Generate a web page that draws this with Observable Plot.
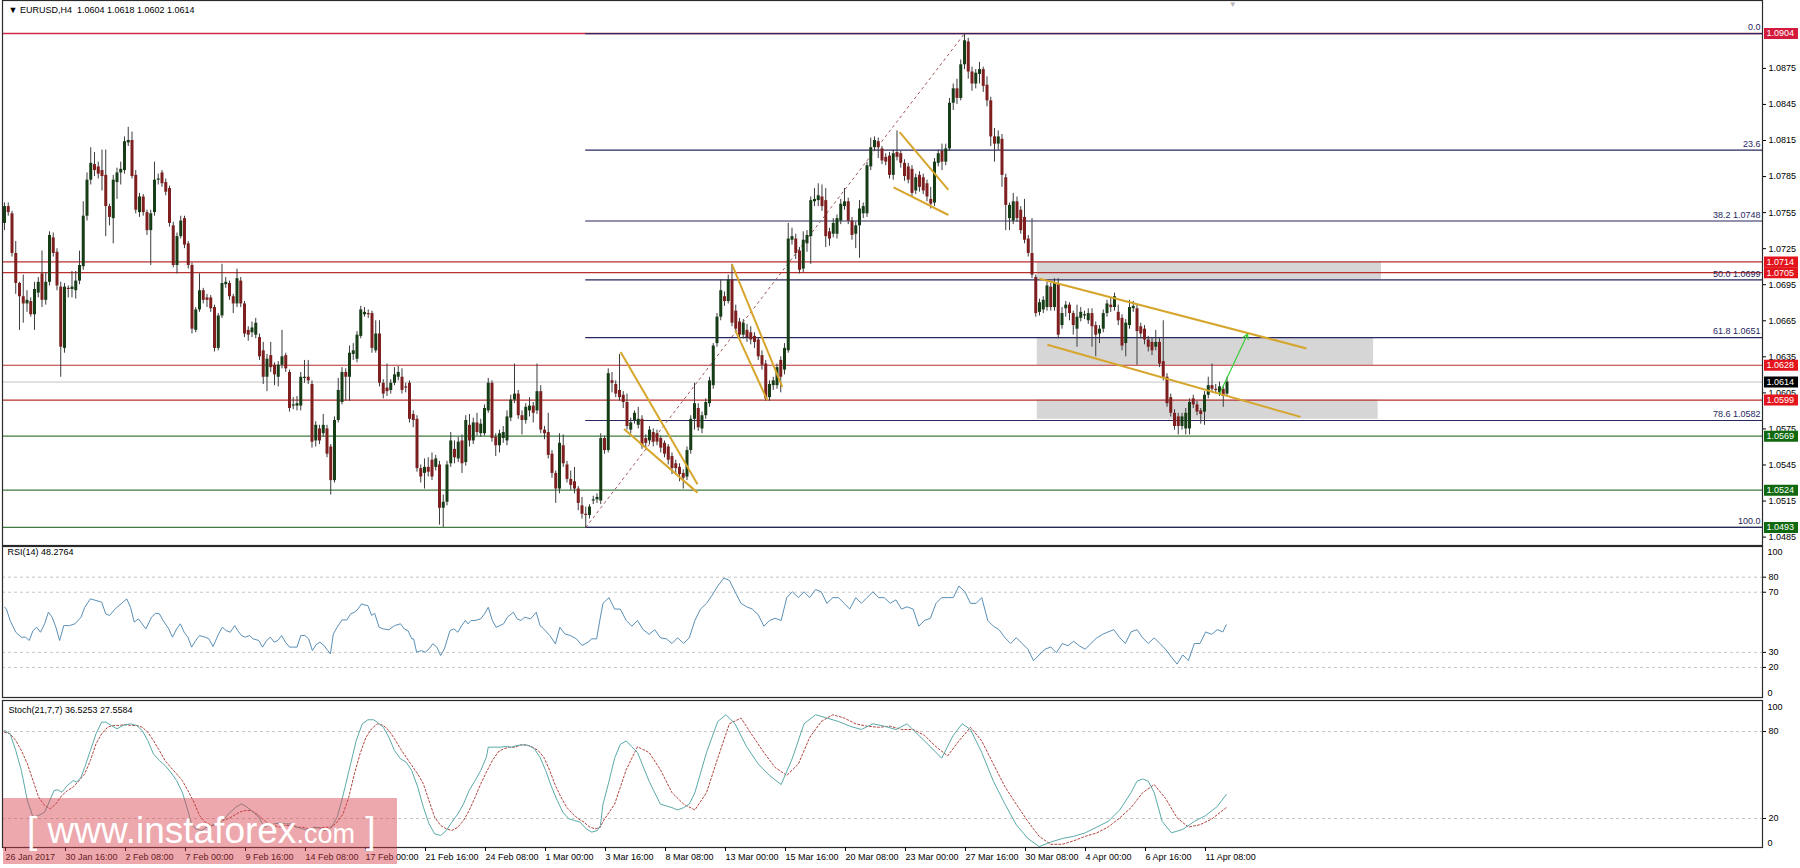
<!DOCTYPE html>
<html><head><meta charset="utf-8">
<script src="https://cdn.jsdelivr.net/npm/d3@7"></script>
<script src="https://cdn.jsdelivr.net/npm/@observablehq/plot@0.6"></script>
<style>
body{margin:0;background:#fff;}
#wrap{position:relative;width:1800px;height:868px;overflow:hidden;font-family:"Liberation Sans",Arial,sans-serif;}
.p{position:absolute;left:0;}
#wm{position:absolute;left:3px;top:798px;width:394px;height:66px;background:rgba(214,62,74,0.45);}
#wm div{position:absolute;left:24px;top:1px;color:#fff;font-size:37px;line-height:64px;white-space:nowrap;font-family:"Liberation Sans",Arial,sans-serif;}
</style></head>
<body><div id="wrap">
<div class="p" id="p1" style="top:0"></div>
<div class="p" id="p2" style="top:546px"></div>
<div class="p" id="p3" style="top:700px"></div>
<div id="wm"><div>[ www.instaforex<span style="font-size:27px">.com</span> ]</div></div>
</div>
<script>
// ---- price data, in pips above 1.0000 (bar 0 = 26 Jan 2017 00:00, H4) ----
const open = [
746,760,754,721,696,685,679,681,670,688, 704,682,697,734,722,693,642,692,691,690,
698,710,752,782,795,793,790,786,760,750, 780,788,790,813,815,786,755,768,755,740,
755,782,788,780,775,744,711,735,750,729, 711,657,674,690,684,684,676,642,669,695,
696,685,679,698,679,657,655,653,651,640, 618,636,628,618,628,636,622,594,594,594,
617,618,612,565,575,571,575,560,532,582, 597,622,618,637,633,652,670,671,671,640,
654,613,609,607,613,618,618,610,613,587, 583,542,538,543,549,543,545,509,514,546,
558,550,565,547,578,565,580,571,571,590, 613,568,561,567,565,584,599,604,586,582,
590,594,590,606,574,572,554,538,525,561, 545,533,531,525,511,504,503,515,516,515,
567,557,615,612,607,603,597,574,582,578, 583,567,565,572,571,567,563,560,552,546,
543,538,535,557,583,592,575,586,596,611, 646,668,685,681,699,673,664,653,657,655,
652,649,636,629,601,611,611,632,624,640, 732,733,723,708,729,735,764,765,768,765,
739,737,737,748,760,764,748,737,744,754, 754,793,809,814,808,801,802,786,805,804,
796,793,791,773,786,784,779,766,763,796, 806,797,808,846,858,850,878,897,872,862,
870,874,861,848,818,812,816,784,750,748, 764,757,751,733,721,701,672,674,676,693,
676,696,661,675,678,671,658,667,669,665, 671,661,654,658,671,678,676,672,667,646,
661,675,675,660,658,649,647,643,647,631, 618,601,588,585,577,575,575,600,595,590,
589,603,611,608,605,608,604];
const high = [
763,763,756,731,697,703,690,684,697,701, 723,705,739,738,725,697,696,694,706,706,
723,764,788,809,805,797,807,807,762,786, 792,797,818,826,822,790,771,770,757,757,
797,787,790,783,777,747,738,752,752,731, 713,676,704,692,687,686,678,671,712,701,
698,687,708,701,681,660,664,667,654,647, 637,647,630,631,657,638,624,601,602,622,
632,632,615,581,578,587,578,562,585,617, 626,625,644,646,656,677,676,674,673,665,
665,616,629,616,626,627,625,613,615,590, 586,545,550,551,555,553,548,520,548,572,
565,568,570,586,587,584,588,583,595,617, 615,571,574,577,590,603,629,607,590,596,
601,597,629,611,577,588,557,540,571,570, 548,540,543,527,518,510,512,519,521,571,
569,625,622,615,637,606,604,584,590,593, 586,570,577,575,574,569,565,562,555,549,
546,541,560,586,613,596,589,600,618,646, 671,699,689,703,712,678,667,666,662,660,
655,651,640,632,615,618,629,635,646,746, 742,737,726,739,740,768,775,779,778,775,
742,750,753,766,775,767,751,747,765,763, 797,817,818,817,810,804,805,807,823,806,
799,796,794,787,789,787,782,776,800,807, 812,812,850,862,866,882,904,900,876,874,
880,876,868,851,825,823,820,787,763,771, 768,760,766,736,750,703,683,685,697,696,
700,700,676,681,680,673,678,676,673,675, 675,664,661,674,682,684,688,678,670,666,
682,681,678,663,661,652,650,657,650,665, 621,604,591,588,588,592,600,603,598,592,
606,618,629,612,614,611,618];
const low = [
740,752,718,687,657,663,672,668,657,684, 676,678,694,718,690,618,638,684,684,683,
695,707,748,778,785,783,773,735,744,729, 766,778,787,810,783,754,751,752,736,711,
752,778,776,769,743,709,704,733,725,708, 654,655,672,679,676,672,639,640,667,692,
682,671,676,676,651,648,651,650,632,612, 606,622,611,610,625,622,589,591,590,590,
613,612,559,560,562,568,551,520,530,580, 595,598,598,632,630,650,668,667,638,638,
610,600,602,604,611,615,604,605,580,576, 539,530,525,535,532,540,495,493,511,543,
546,547,538,544,560,562,569,568,569,588, 564,552,555,563,561,581,596,583,570,579,
585,580,587,571,566,550,534,513,521,543, 530,524,521,507,500,493,500,512,513,512,
554,555,605,601,598,592,574,571,579,575, 558,559,562,560,561,555,551,545,537,538,
531,525,532,554,574,573,571,583,593,608, 643,665,677,679,660,655,650,650,647,645,
642,632,624,598,598,607,608,605,620,638, 728,716,704,705,722,712,760,760,756,726,
727,734,733,745,757,745,732,725,717,750, 751,790,806,800,795,794,783,782,798,792,
781,779,768,770,772,770,764,758,760,793, 790,794,806,840,845,848,874,866,856,858,
862,855,843,810,797,807,776,740,740,745, 747,737,729,718,700,668,669,671,673,673,
673,650,658,668,665,653,643,664,666,662, 643,635,646,655,668,672,673,661,640,635,
658,672,628,650,645,639,636,640,626,615, 593,585,574,570,574,570,570,592,586,579,
578,600,605,604,602,593,602];
const close = [
760,755,721,696,685,679,682,670,691,697, 682,697,736,721,694,643,693,691,693,698,
711,752,782,796,790,787,785,760,751,782, 788,791,814,815,785,757,768,755,740,754,
782,783,779,772,746,711,735,748,728,711, 658,674,690,682,682,675,642,669,696,697,
685,679,700,679,654,653,659,663,635,618, 633,626,620,628,635,625,592,595,596,618,
618,615,564,578,565,578,554,532,582,607, 622,618,638,640,653,674,672,670,642,654,
613,604,606,613,620,622,607,609,583,582, 542,535,543,539,535,550,509,514,545,565,
551,564,546,582,565,580,572,579,592,613, 567,561,571,572,585,599,604,586,582,593,
594,588,606,574,571,553,538,525,563,546, 533,528,525,513,504,503,510,516,518,567,
557,621,613,604,601,597,577,580,588,583, 561,563,574,564,564,559,554,549,542,542,
537,534,557,583,596,576,586,597,615,644, 668,690,681,699,663,658,653,663,651,649,
647,635,628,600,612,615,626,618,642,733, 735,721,707,732,736,765,766,769,760,735,
733,746,750,762,764,748,736,744,758,760, 794,809,815,809,798,797,786,804,801,796,
785,782,771,784,776,773,768,762,797,804, 797,808,846,858,850,878,898,872,862,871,
874,860,848,818,812,818,786,761,761,764, 750,740,732,721,703,671,680,682,694,676,
696,653,671,678,671,661,668,672,670,671, 660,653,658,671,679,676,685,665,644,663,
676,677,656,654,649,643,640,647,629,618, 596,588,577,577,585,588,597,595,589,587,
603,611,608,607,610,602,614];

// ---- indicator readings: [bar, value] ----
const rsiPoints = [
[0,60.0],[0.5,58.9],[1.5,51.2],[3.0,43.4],[4.5,40.1],[5.6,40.1],[6.6,37.9],[7.6,44.5],[8.6,46.7],[9.6,43.4],
[10.7,49.0],[11.7,56.7],[12.7,53.4],[13.7,46.7],[14.7,37.9],[15.8,47.8],[17.3,47.8],[18.8,49.0],[20.4,53.4],[21.4,60.0],
[22.9,65.6],[24.4,64.5],[25.9,63.4],[27.0,55.6],[28.0,54.5],[29.5,58.9],[31.1,62.3],[32.6,65.6],[33.6,60.0],[34.6,50.1],
[35.7,52.3],[36.7,49.0],[37.7,45.6],[39.2,53.4],[40.3,56.0],[41.3,55.6],[42.3,51.2],[43.8,45.6],[44.8,40.1],[45.9,45.6],
[46.9,49.0],[47.9,43.4],[48.9,40.1],[49.9,33.5],[51.0,37.9],[52.0,41.2],[53.5,40.1],[54.5,39.0],[55.6,33.9],[57.1,42.3],
[58.1,46.7],[59.1,44.5],[60.2,43.4],[61.4,47.8],[62.2,44.5],[63.2,41.2],[64.2,40.1],[65.3,41.2],[66.3,39.0],[67.8,37.9],
[68.8,33.5],[69.9,37.9],[70.9,40.1],[71.9,36.8],[72.9,37.9],[73.9,41.2],[74.9,36.8],[76.0,33.5],[77.0,33.5],[78.0,33.5],
[79.0,41.2],[80.1,41.2],[81.1,39.0],[82.1,31.2],[83.1,35.2],[84.1,36.8],[85.2,34.6],[86.2,31.2],[86.9,29.0],[87.7,42.3],
[88.7,46.7],[90.0,51.6],[91.3,51.6],[92.3,55.6],[93.3,56.7],[94.3,58.9],[95.2,62.3],[95.9,61.6],[96.9,61.1],[97.9,54.5],
[98.7,56.0],[99.9,46.7],[101.0,45.6],[102.5,45.0],[104.0,47.8],[105.6,49.0],[106.6,45.6],[107.6,44.5],[108.6,39.0],[109.1,39.0],
[109.9,30.1],[111.2,31.2],[112.2,30.1],[113.2,32.3],[114.2,35.7],[115.3,33.5],[116.3,27.9],[117.3,32.3],[118.8,44.5],[119.8,45.6],
[120.9,43.4],[121.9,47.8],[122.9,51.2],[123.6,49.0],[124.4,51.2],[125.5,51.2],[127.0,52.3],[128.0,55.6],[129.0,60.0],[130.1,51.2],
[131.1,46.7],[132.1,47.8],[133.1,49.0],[134.1,53.4],[135.7,56.7],[136.7,52.3],[137.7,51.2],[138.7,53.4],[140.3,52.3],[141.8,56.7],
[142.8,47.8],[143.8,45.6],[145.4,41.2],[146.9,35.7],[148.1,46.7],[149.4,42.3],[150.9,41.2],[152.5,39.0],[154.0,34.6],[155.6,36.8],
[156.6,39.0],[157.9,39.0],[158.9,53.4],[159.6,62.6],[161.2,66.4],[162.7,58.8],[164.2,58.8],[165.8,51.2],[167.3,47.4],[168.8,51.2],
[170.3,45.1],[171.9,42.0],[173.4,45.1],[174.9,39.7],[176.5,39.0],[178.0,35.9],[179.5,39.7],[181.1,35.9],[182.6,39.7],[184.1,51.2],
[185.6,58.8],[187.2,62.6],[188.7,68.0],[190.2,74.1],[191.8,79.4],[193.3,77.9],[194.8,70.3],[196.4,62.6],[197.9,60.3],[199.4,58.8],
[201.0,55.0],[202.5,47.4],[204.0,51.2],[205.5,52.7],[207.1,51.2],[208.6,66.4],[210.1,70.3],[211.7,66.4],[213.2,70.3],[214.7,66.4],
[216.3,71.8],[217.8,70.3],[219.3,62.6],[220.9,66.4],[222.4,66.4],[223.9,62.6],[225.4,58.8],[227.0,66.4],[228.5,62.6],[230.0,66.4],
[231.6,70.3],[233.1,66.4],[234.6,66.4],[236.2,62.6],[237.7,64.9],[239.2,58.8],[240.7,60.3],[242.3,58.8],[243.8,47.4],[245.3,51.2],
[246.9,52.7],[248.4,62.6],[249.9,66.4],[251.5,66.4],[253.0,66.4],[254.5,74.1],[256.1,70.3],[257.6,62.6],[259.1,62.6],[260.6,66.4],
[262.2,51.2],[263.7,47.4],[265.2,45.1],[266.8,39.7],[268.3,35.9],[269.8,39.7],[271.4,35.9],[272.9,32.1],[274.4,24.5],[275.9,28.3],
[277.5,32.1],[279.0,33.6],[280.5,29.8],[282.1,35.9],[283.6,34.4],[285.1,37.4],[286.6,34.4],[288.2,32.1],[289.7,35.9],[291.3,39.7],
[292.8,42.0],[294.3,43.6],[295.8,45.1],[297.4,39.7],[298.9,35.9],[300.4,43.6],[302.0,45.1],[303.5,39.7],[305.0,35.9],[306.6,39.7],
[308.1,35.9],[309.6,32.1],[311.2,26.8],[312.7,22.2],[314.2,28.3],[315.7,24.5],[317.3,35.9],[318.8,35.9],[320.3,43.6],[321.9,42.0],
[323.4,45.1],[324.9,43.6],[325.8,48.3]];
const stochMain = [
[0,80.7],[1.5,78.4],[3.0,66.9],[4.5,53.1],[6.1,32.4],[7.6,20.9],[9.1,22.1],[10.7,24.4],[11.7,30.1],[13.2,39.3],
[14.2,39.8],[15.3,38.2],[16.8,42.8],[18.3,46.2],[19.3,45.1],[20.4,48.5],[21.4,55.4],[22.9,66.9],[24.4,78.4],[25.9,86.5],
[27.0,86.5],[28.5,84.2],[30.0,81.9],[31.6,84.2],[33.6,85.3],[35.2,84.2],[36.7,80.7],[38.2,73.8],[39.7,64.6],[41.3,60.0],
[42.8,56.6],[44.3,52.0],[45.9,46.2],[47.4,38.2],[48.9,25.5],[49.9,16.3],[51.0,12.9],[52.5,11.7],[54.0,14.0],[55.6,15.2],
[57.1,16.3],[58.6,19.8],[60.2,24.4],[61.7,27.8],[63.2,30.1],[64.7,27.8],[66.3,24.4],[67.8,20.9],[69.3,14.0],[70.4,15.2],
[71.9,16.3],[73.4,16.8],[74.9,16.3],[76.5,16.3],[78.0,14.0],[79.5,12.9],[81.1,11.7],[82.6,14.0],[84.1,13.6],[85.2,11.7],
[86.7,12.9],[87.7,16.3],[88.7,20.9],[89.7,30.1],[90.8,41.6],[92.3,57.7],[93.8,73.8],[95.4,85.3],[96.9,88.1],[98.4,88.1],
[99.4,86.5],[101.0,83.0],[102.5,76.1],[104.0,66.9],[105.6,61.2],[107.1,58.9],[108.6,53.1],[110.2,41.6],[111.7,27.8],[113.2,16.3],
[114.7,9.4],[116.3,8.3],[117.8,11.7],[119.3,17.5],[120.9,23.2],[122.4,30.1],[123.9,39.3],[125.5,46.2],[127.0,53.1],[128.5,62.3],
[129.0,69.2],[130.6,69.2],[132.1,69.2],[133.6,69.7],[135.2,69.2],[136.7,70.4],[138.2,70.8],[139.7,70.4],[141.3,68.1],[142.8,62.3],
[144.3,53.1],[145.9,41.6],[147.4,32.4],[148.9,24.4],[150.5,19.8],[152.0,18.6],[153.5,17.5],[155.1,12.9],[156.6,10.6],[158.1,11.7],
[158.9,15.2],[159.6,29.9],[161.2,45.7],[162.7,61.6],[164.2,71.1],[165.8,73.5],[167.3,69.5],[168.8,65.5],[171.9,45.7],[174.9,29.9],
[178.0,27.5],[179.5,25.9],[181.1,27.5],[182.6,29.9],[184.1,37.8],[187.2,65.5],[190.2,86.9],[192.4,91.6],[194.8,85.3],[197.9,69.5],
[201.0,57.6],[204.0,49.7],[207.1,43.4],[210.1,61.6],[213.2,85.3],[216.3,91.6],[219.3,89.3],[222.4,86.9],[225.4,83.7],[228.5,81.4],
[231.6,85.3],[234.6,83.7],[237.7,81.4],[240.7,85.3],[243.8,77.4],[246.9,69.5],[249.9,61.6],[253.0,77.4],[255.4,85.3],[257.6,81.4],
[260.6,65.5],[263.7,45.7],[266.8,29.9],[269.8,15.7],[272.9,6.2],[275.9,0.6],[279.0,3.8],[282.1,6.2],[285.1,7.7],[288.2,10.1],
[291.3,14.1],[294.3,18.0],[297.4,25.9],[300.4,37.8],[302.0,45.7],[303.5,47.3],[305.0,45.7],[306.6,37.8],[308.7,18.0],[311.2,10.1],
[314.2,12.5],[317.3,18.0],[320.3,22.0],[323.4,28.3],[325.8,36.5]];
const stochSignal = [
[0,79.6],[1.5,78.4],[3.0,73.8],[4.5,66.9],[6.1,57.7],[7.6,46.2],[9.1,34.7],[10.7,29.0],[12.2,26.7],[13.7,30.1],
[15.3,35.9],[16.8,39.3],[18.3,41.6],[19.9,46.2],[21.4,50.8],[22.9,60.0],[24.4,71.5],[25.9,78.4],[27.5,83.0],[29.0,84.2],
[30.6,84.2],[32.1,84.8],[33.6,84.2],[35.2,84.2],[36.7,83.0],[38.2,79.6],[39.7,73.8],[41.3,66.9],[42.8,60.0],[44.3,55.4],
[45.9,50.8],[47.4,46.2],[48.9,39.3],[50.5,31.3],[52.0,22.1],[53.5,17.5],[55.1,15.2],[56.6,16.3],[58.1,18.6],[59.6,19.8],
[61.2,22.1],[62.7,24.4],[64.2,25.5],[65.8,25.5],[67.3,23.2],[68.8,19.8],[70.4,16.3],[71.9,15.2],[73.4,14.0],[74.9,15.2],
[76.5,15.2],[78.0,14.0],[79.5,14.0],[81.1,12.9],[82.6,13.6],[84.1,13.6],[85.7,14.0],[87.2,14.0],[88.7,17.5],[90.3,23.2],
[91.8,34.7],[93.3,50.8],[94.8,64.6],[96.4,76.1],[97.9,81.9],[99.4,85.3],[101.0,84.2],[102.5,80.7],[104.0,75.0],[105.6,68.1],
[107.1,62.3],[108.6,56.6],[110.2,50.8],[111.7,43.9],[113.2,32.4],[114.7,20.9],[116.3,15.2],[117.8,12.9],[119.3,11.7],[120.9,14.0],
[122.4,18.6],[123.9,25.5],[125.5,34.7],[127.0,43.9],[128.5,52.0],[130.1,60.0],[131.6,65.8],[133.1,68.1],[134.6,69.2],[136.2,69.2],
[137.7,70.8],[139.2,70.8],[140.8,69.2],[142.3,66.9],[143.8,62.3],[145.4,53.1],[146.9,42.8],[148.4,34.7],[149.9,27.8],[151.5,23.2],
[153.0,19.8],[154.5,17.5],[156.1,14.0],[157.6,12.9],[158.9,14.0],[159.6,18.0],[162.7,29.9],[165.8,53.7],[168.8,69.5],[171.9,65.5],
[174.9,53.7],[178.0,37.8],[181.1,29.9],[184.1,25.9],[187.2,37.8],[190.2,61.6],[193.3,85.3],[196.4,89.3],[199.4,77.4],[202.5,65.5],
[205.5,55.2],[208.6,49.7],[211.7,57.6],[214.7,75.8],[217.8,86.9],[220.9,91.6],[223.9,89.3],[227.0,85.3],[230.0,83.7],[233.1,82.9],
[236.2,83.7],[239.2,81.4],[242.3,81.4],[245.3,77.4],[248.4,69.5],[251.5,63.2],[254.5,73.5],[257.6,82.9],[260.6,73.5],[263.7,57.6],
[266.8,41.8],[269.8,29.9],[272.9,18.0],[275.9,7.7],[279.0,2.2],[282.1,2.2],[285.1,4.6],[288.2,7.7],[291.3,10.1],[294.3,14.1],
[297.4,20.4],[300.4,27.5],[303.5,37.8],[306.6,43.4],[309.6,33.9],[312.7,20.4],[315.7,14.1],[318.8,15.7],[321.9,19.6],[325.8,27.5]];

// ---- levels, drawings, labels ----
const priceTicks = [1.0485,1.0515,1.0545,1.0575,1.0605,1.0635,1.0665,1.0695,1.0725,1.0755,1.0785,1.0815,1.0845,1.0875];
const redLevels = [1.0714, 1.0705, 1.0628, 1.0599];
const greenLevels = [1.0569, 1.0524, 1.0493];
const topLevel = [1.0904];
const bidLevel = [1.0614];
const fibPrice = [1.0904, 1.0807, 1.0748, 1.0699, 1.0651, 1.0582, 1.0493];
const fibText = ["0.0", "23.6", "38.2 1.0748", "50.0 1.0699", "61.8 1.0651", "78.6 1.0582", "100.0"];
const fibFromBar = 155, fibToBar = 256;
const boxLow = [1.0699, 1.0628, 1.0583];
const boxHigh = [1.0714, 1.0651, 1.0599];
const boxFrom = [275.4, 275.4, 275.4];
const boxTo = [367.2, 365.1, 366.3];
const trendX1 = [164.3, 165.2, 194.0, 194.9, 238.7, 237.1, 276.0, 278.1];
const trendY1 = [1.0639, 1.0575, 1.0712, 1.0657, 1.0822, 1.0776, 1.0700, 1.0645];
const trendX2 = [184.8, 184.8, 207.4, 203.4, 251.7, 251.7, 347.2, 345.6];
const trendY2 = [1.0529, 1.0522, 1.0610, 1.0599, 1.0774, 1.0753, 1.0642, 1.0585];
const arrowFrom = [324, 1.0604], arrowTo = [331.5, 1.0654];
const tagPrice = [1.0904, 1.0714, 1.0705, 1.0628, 1.0614, 1.0599, 1.0569, 1.0524, 1.0493];
const tagColor = ["#d41a3c","#e3141c","#e3141c","#e3141c","#000000","#e3141c","#10690f","#10690f","#10690f"];
const xTickBars = [0,16,32,48,64,80,96,112,128,144,160,176,192,208,224,240,256,272,288,304,320];
const xTickLabels = ["26 Jan 2017","30 Jan 16:00","2 Feb 08:00","7 Feb 00:00","9 Feb 16:00","14 Feb 08:00","17 Feb 00:00","21 Feb 16:00","24 Feb 08:00","1 Mar 00:00","3 Mar 16:00","8 Mar 08:00","13 Mar 00:00","15 Mar 16:00","20 Mar 08:00","23 Mar 00:00","27 Mar 16:00","30 Mar 08:00","4 Apr 00:00","6 Apr 16:00","11 Apr 08:00"];
const header = "\u25BC\u00a0EURUSD,H4\u00a0\u00a01.0604 1.0618 1.0602 1.0614";
const rsiTitle = "RSI(14) 48.2764";
const stochTitle = "Stoch(21,7,7) 36.5253 27.5584";
const rsiLevels = [80, 70, 30, 20];
const stochLevels = [80, 20];

// ---- build ----
const FONT = '"Liberation Sans", Arial, sans-serif';
const xDom = [-0.5333, 468.8];
const tagX1 = 469.33, tagX2 = 478.4;
const base = {width: 1800, marginLeft: 2, marginRight: 38, x: {domain: xDom, axis: null},
  style: {fontFamily: FONT, fontSize: "9px", overflow: "visible", background: "transparent", color: "#000"}};
const bars = open.map((o, i) => ({i, o: 1 + o / 1e4, h: 1 + high[i] / 1e4, l: 1 + low[i] / 1e4, c: 1 + close[i] / 1e4, up: close[i] >= o}));
const NAVY = "#27275e";
const fibIdx = d3.range(fibPrice.length);
const trIdx = d3.range(trendX1.length);
const boxIdx = d3.range(boxLow.length);

const p1 = Plot.plot({...base, height: 546, marginTop: 0, marginBottom: 1,
  y: {domain: [1.0478, 1.09315], axis: null},
  marks: [
    Plot.rect(boxIdx, {x1: i => boxFrom[i], x2: i => boxTo[i], y1: i => boxLow[i], y2: i => boxHigh[i], fill: "#d6d6d6"}),
    Plot.ruleY(bidLevel, {stroke: "#c4c4c4", strokeWidth: 1}),
    Plot.ruleY(redLevels, {stroke: "#b8312f", strokeWidth: 1.2}),
    Plot.ruleY(topLevel, {stroke: "#cf2a4a", strokeWidth: 1.6}),
    Plot.ruleY(greenLevels, {stroke: "#3f7a3f", strokeWidth: 1.2}),
    Plot.ruleY(fibIdx, {y: i => fibPrice[i], x1: fibFromBar, x2: xDom[1], stroke: NAVY, strokeWidth: 1.2}),
    Plot.link([0], {x1: fibFromBar, y1: 1.0493, x2: fibToBar, y2: 1.0904, stroke: "#a0565a", strokeDasharray: "3,3", strokeWidth: 1}),
    Plot.ruleX(bars, {x: "i", y1: "l", y2: "h", stroke: "#3c3c3c", strokeWidth: 1}),
    Plot.ruleX(bars, {x: "i", y1: "o", y2: "c", stroke: d => d.up ? "#173d17" : "#7e1f1f", strokeWidth: 3}),
    Plot.link(trIdx, {x1: i => trendX1[i], y1: i => trendY1[i], x2: i => trendX2[i], y2: i => trendY2[i], stroke: "#d6a52c", strokeWidth: 2}),
    Plot.arrow([0], {x1: arrowFrom[0], y1: arrowFrom[1], x2: arrowTo[0], y2: arrowTo[1], stroke: "#3ccf3c", strokeWidth: 1.2, headLength: 7}),
    Plot.text(fibIdx, {x: xDom[1], y: i => fibPrice[i], text: i => fibText[i], textAnchor: "end", dx: -2, dy: -6, fill: NAVY}),
    Plot.frame({stroke: "#2a2a2a", strokeWidth: 1.2}),
    Plot.axisY({anchor: "right", ticks: priceTicks, tickFormat: d3.format(".4f"), tickSize: 3, tickPadding: 3, label: null}),
    Plot.ruleY(tagPrice, {y: d => d, x1: tagX1, x2: tagX2, stroke: (d, i) => tagColor[i], strokeWidth: 11}),
    Plot.text(tagPrice, {x: tagX1, y: d => d, text: d => d.toFixed(4), textAnchor: "start", dx: 2, fill: "#fff"}),
    Plot.text([header], {frameAnchor: "top-left", dx: 6, dy: 6, lineAnchor: "top", fill: "#000"}),
    Plot.text(["\u25BC"], {x: 327.5, frameAnchor: "top", dy: 1, lineAnchor: "top", fill: "#b4b4b4", fontSize: 8})
  ]});
document.getElementById("p1").append(p1);

const p2 = Plot.plot({...base, height: 152, marginTop: 0, marginBottom: 1,
  y: {domain: [0, 100.4], axis: null},
  marks: [
    Plot.ruleY(rsiLevels, {stroke: "#c6c6c6", strokeDasharray: "3,3"}),
    Plot.line(rsiPoints, {x: d => d[0], y: d => d[1], stroke: "#5a8fb6", strokeWidth: 1}),
    Plot.frame({stroke: "#2a2a2a", strokeWidth: 1.2}),
    Plot.axisY({anchor: "right", ticks: rsiLevels, tickSize: 3, tickPadding: 3, label: null}),
    Plot.text([100], {x: xDom[1], y: d => d, text: String, textAnchor: "start", dx: 5, dy: 5}),
    Plot.text([0], {x: xDom[1], y: d => d, text: String, textAnchor: "start", dx: 5, dy: -4}),
    Plot.text([rsiTitle], {frameAnchor: "top-left", dx: 5, dy: 2, lineAnchor: "top", fill: "#000"})
  ]});
document.getElementById("p2").append(p2);

const labelOf = new Map(xTickBars.map((b, i) => [b, xTickLabels[i]]));
const p3 = Plot.plot({...base, height: 170, marginTop: 0, marginBottom: 23,
  y: {domain: [0, 101.4], axis: null},
  marks: [
    Plot.ruleY(stochLevels, {stroke: "#c6c6c6", strokeDasharray: "3,3"}),
    Plot.line(stochSignal, {x: d => d[0], y: d => d[1], stroke: "#b0443f", strokeWidth: 1, strokeDasharray: "2,2"}),
    Plot.line(stochMain, {x: d => d[0], y: d => d[1], stroke: "#5aaaa9", strokeWidth: 1}),
    Plot.frame({stroke: "#2a2a2a", strokeWidth: 1.2}),
    Plot.axisY({anchor: "right", ticks: stochLevels, tickSize: 3, tickPadding: 3, label: null}),
    Plot.text([100], {x: xDom[1], y: d => d, text: String, textAnchor: "start", dx: 5, dy: 5}),
    Plot.text([0], {x: xDom[1], y: d => d, text: String, textAnchor: "start", dx: 5, dy: -4}),
    Plot.axisX({anchor: "bottom", ticks: xTickBars, tickFormat: d => labelOf.get(d), tickSize: 4, tickPadding: 2, textAnchor: "start", dx: 1, label: null}),
    Plot.text([stochTitle], {frameAnchor: "top-left", dx: 6, dy: 6, lineAnchor: "top", fill: "#000"})
  ]});
document.getElementById("p3").append(p3);
</script>
</body></html>
